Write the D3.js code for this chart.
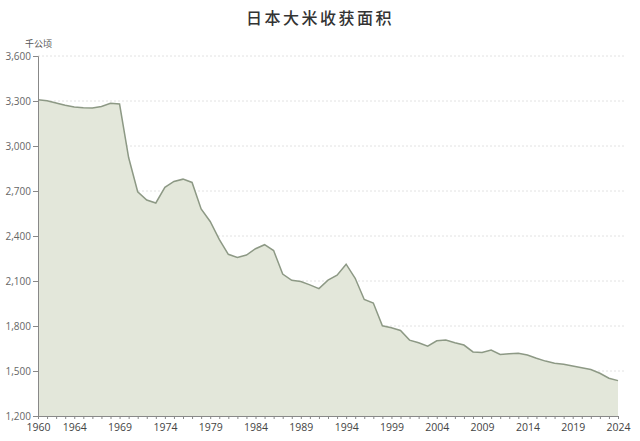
<!DOCTYPE html>
<html><head><meta charset="utf-8">
<script src="https://cdn.jsdelivr.net/npm/d3@7"></script>
<style>body{margin:0;background:#fff}</style>
</head><body><svg id="c" width="640" height="441"></svg>
<script>
const years = d3.range(1960, 2025);
const area = [3308,3301,3286,3272,3260,3255,3254,3263,3285,3280,
2923,2695,2640,2620,2724,2764,2779,2757,2580,2497,
2377,2278,2257,2273,2315,2342,2303,2146,2105,2097,
2074,2049,2106,2139,2212,2118,1977,1953,1801,1788,
1770,1706,1688,1665,1701,1706,1688,1673,1627,1624,
1640,1610,1615,1618,1607,1585,1566,1552,1545,1533,
1522,1510,1485,1452,1436];
const yTicks = [1200,1500,1800,2100,2400,2700,3000,3300,3600];
const xTickLabels = [1960,1964,1969,1974,1979,1984,1989,1994,1999,2004,2009,2014,2019,2024];
const title = "日本大米收获面积";
const unit = "千公顷";

const svg = d3.select("#c");
const L = 38, R = 618, T = 56, B = 416;
const x = d3.scaleLinear().domain([1960, 2024]).range([L, R]);
const y = d3.scaleLinear().domain([1200, 3600]).range([B, T]);
const data = years.map((yr, i) => ({yr, v: area[i]}));

// grid
svg.append("g").selectAll("line").data(yTicks.slice(1)).join("line")
  .attr("x1", L).attr("x2", 624).attr("y1", d => y(d)).attr("y2", d => y(d))
  .attr("stroke", "#e2e2e2").attr("stroke-dasharray", "2,2").attr("stroke-width", 1);

// area
svg.append("path").datum(data)
  .attr("d", d3.area().x(d => x(d.yr)).y0(B).y1(d => y(d.v)))
  .attr("fill", "#e3e7da");
svg.append("path").datum(data)
  .attr("d", d3.line().x(d => x(d.yr)).y(d => y(d.v)))
  .attr("fill", "none").attr("stroke", "#8d9985").attr("stroke-width", 1.5);

// y axis
const ya = svg.append("g").attr("transform", `translate(${L},0)`)
  .call(d3.axisLeft(y).tickValues(yTicks).tickSize(5).tickPadding(2).tickFormat(d3.format(",")));
ya.select(".domain").attr("stroke", "#888");
ya.selectAll(".tick line").attr("stroke", "#888");
ya.selectAll("text").attr("fill", "#666").style("font-family", "'Open Sans', sans-serif").style("font-size", "10px");

// x axis
const xa = svg.append("g").attr("transform", `translate(0,${B})`)
  .call(d3.axisBottom(x).tickValues(years).tickSize(3).tickSizeOuter(0).tickFormat(d => xTickLabels.includes(d) ? d : ""));
xa.select(".domain").attr("stroke", "#888");
xa.selectAll(".tick line").attr("stroke", "#888");
xa.selectAll("text").attr("fill", "#444").attr("dy", "0.9em").style("font-family", "'Open Sans', sans-serif").style("font-size", "10.5px");

svg.append("text").attr("x", 320).attr("y", 24).attr("text-anchor", "middle")
  .style("font-family", "'Noto Sans CJK SC', sans-serif").style("font-size", "16px").style("font-weight", 500)
  .style("letter-spacing", "2.5px").attr("fill", "#333").text(title);
svg.append("text").attr("x", 25).attr("y", 47)
  .style("font-family", "'Noto Sans CJK SC', sans-serif").style("font-size", "9px")
  .attr("fill", "#555").text(unit);
</script></body></html>
